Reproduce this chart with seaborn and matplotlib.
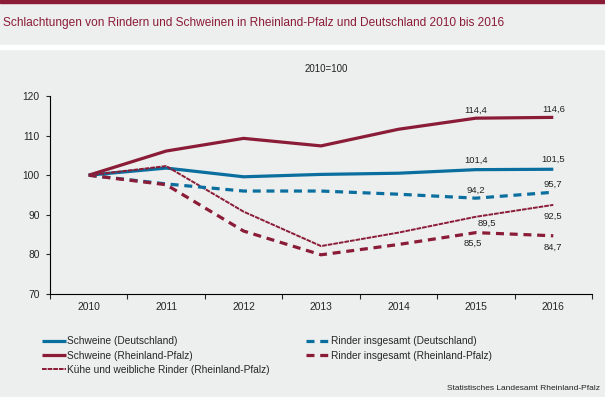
import numpy as np
import pandas as pd
import seaborn as sns
import matplotlib.pyplot as plt
from matplotlib.lines import Line2D

sns.set_style('ticks')
plt.rcParams['font.family'] = ['Liberation Sans', 'DejaVu Sans']

years = ['2010', '2011', '2012', '2013', '2014', '2015', '2016']
schweine_de = [100, 101.8, 99.6, 100.2, 100.5, 101.4, 101.5]
schweine_rlp = [100, 106.1, 109.3, 107.4, 111.6, 114.4, 114.6]
rinder_de = [100, 97.8, 96.0, 96.0, 95.2, 94.2, 95.7]
rinder_rlp = [100, 97.6, 85.9, 79.9, 82.5, 85.5, 84.7]
kuehe_rlp = [100, 102.3, 90.8, 82.1, 85.5, 89.5, 92.5]

blue = '#0a6f9e'
red = '#8b1c37'
bg = '#edeeee'

# name, werte, farbe, linienbreite, strichmuster, label-versatz (2015, 2016) in pt
series = [
    ('Schweine (Deutschland)', schweine_de, blue, 2.3, None, ((0, 6.5), (0, 7.5))),
    ('Schweine (Rheinland-Pfalz)', schweine_rlp, red, 2.3, None, ((0, 5.5), (0, 5.5))),
    ('Kühe und weibliche Rinder (Rheinland-Pfalz)', kuehe_rlp, red, 1.4, (2.4, 0.5), ((8, -4.5), (0, -8))),
    ('Rinder insgesamt (Deutschland)', rinder_de, blue, 2.3, (2.5, 1.8), ((0, 6), (0, 6))),
    ('Rinder insgesamt (Rheinland-Pfalz)', rinder_rlp, red, 2.3, (2.5, 1.8), ((-2, -8), (0, -8.5))),
]

fig = plt.figure(figsize=(6.05, 3.97), dpi=100, facecolor=bg)
ax = fig.add_axes([50 / 605, 1 - 294 / 397, 542 / 605, 198 / 397])
ax.set_facecolor(bg)

handles = []
for name, vals, col, lw, dash, offs in series:
    df = pd.DataFrame({'Jahr': years, 'Index': vals})
    kw = dict(color=col, linewidth=lw, solid_capstyle='butt', dash_capstyle='butt')
    if dash is not None:
        kw['dashes'] = dash
    sns.lineplot(data=df, x='Jahr', y='Index', ax=ax, **kw)
    handles.append(Line2D([], [], color=col, linewidth=lw, dashes=dash if dash else (None, None),
                          solid_capstyle='butt', dash_capstyle='butt', label=name))
    for i, off in zip((5, 6), offs):
        txt = f'{vals[i]:.1f}'.replace('.', ',')
        ax.annotate(txt, (i, vals[i]), xytext=off, textcoords='offset points',
                    ha='center', va='center', fontsize=6.8, color='#222222')

ax.set_xlim(-0.5, 6.5)
ax.set_ylim(70, 120)
ax.set_yticks(np.arange(70, 121, 10))
ax.set_xticks(range(len(years)))
ax.set_xticklabels(years)
ax.set_xticks(np.arange(-0.5, 7, 1), minor=True)
ax.tick_params(axis='x', which='major', length=0, pad=6, labelsize=7.4)
ax.tick_params(axis='x', which='minor', length=3.5, width=0.8)
ax.tick_params(axis='y', length=3, width=0.8, labelsize=7.4, pad=4.5)
ax.set_xlabel('')
ax.set_ylabel('')
for s in ('top', 'right'):
    ax.spines[s].set_visible(False)
for s in ('left', 'bottom'):
    ax.spines[s].set_linewidth(0.8)
    ax.spines[s].set_color('black')

# Kopfbereich
fig.patches.append(plt.Rectangle((0, 1 - 2.5 / 397), 1, 2.5 / 397, transform=fig.transFigure,
                                 color=red, zorder=0))
fig.patches.append(plt.Rectangle((0, 1 - 49 / 397), 1, 4 / 397, transform=fig.transFigure,
                                 color='white', zorder=0))
fig.text(3 / 605, 1 - 23 / 397, 'Schlachtungen von Rindern und Schweinen in Rheinland-Pfalz und Deutschland 2010 bis 2016',
         fontsize=8.6, color=red, va='center', ha='left')
fig.text(326 / 605, 1 - 69 / 397, '2010=100', fontsize=7, color='#222222', ha='center', va='center')

leg_kw = dict(loc='upper left', frameon=False, fontsize=7.3, handlelength=2.35,
              handletextpad=0.15, labelspacing=0.4, borderpad=0, borderaxespad=0)
fig.legend(handles=handles[:3], bbox_to_anchor=(42 / 605, 1 - 336.5 / 397), **leg_kw)
fig.legend(handles=handles[3:], bbox_to_anchor=(306 / 605, 1 - 336.5 / 397), **leg_kw)

fig.text(600 / 605, 1 - 388 / 397, 'Statistisches Landesamt Rheinland-Pfalz', fontsize=6,
         color='#222222', ha='right', va='center')

fig.savefig('out.png', dpi=100, facecolor=bg)
